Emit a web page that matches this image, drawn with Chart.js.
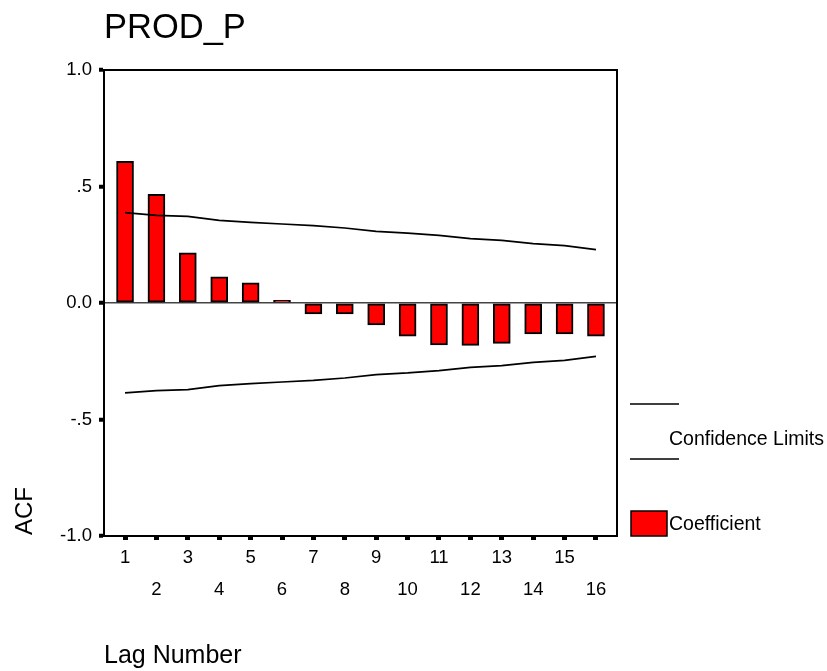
<!DOCTYPE html>
<html>
<head>
<meta charset="utf-8">
<script src="https://cdn.jsdelivr.net/npm/chart.js@4/dist/chart.umd.min.js"></script>
<style>
  html, body { margin: 0; padding: 0; background: #fff; }
  #wrap { width: 827px; height: 671px; position: relative; }
</style>
</head>
<body>
<div id="wrap"><canvas id="c" width="827" height="671"></canvas></div>
<script>
// ---- data ----
const lags = [1, 2, 3, 4, 5, 6, 7, 8, 9, 10, 11, 12, 13, 14, 15, 16];
const acf = [0.608, 0.466, 0.215, 0.112, 0.087, 0.011, -0.047, -0.047, -0.094, -0.142, -0.180, -0.182, -0.173, -0.133, -0.133, -0.142];
const upperLimit = [0.388, 0.376, 0.372, 0.355, 0.346, 0.339, 0.332, 0.322, 0.307, 0.300, 0.290, 0.276, 0.269, 0.255, 0.246, 0.229];
const lowerLimit = [-0.386, -0.376, -0.372, -0.355, -0.346, -0.339, -0.332, -0.322, -0.307, -0.300, -0.290, -0.276, -0.269, -0.255, -0.246, -0.229];
const yTickValues = [-1, -0.5, 0, 0.5, 1];
const yTickLabels = ['-1.0', '-.5', '0.0', '.5', '1.0'];
const xTickLabels = ['1','2','3','4','5','6','7','8','9','10','11','12','13','14','15','16'];
const chartTitle = 'PROD_P';
const yTitle = 'ACF';
const xTitle = 'Lag Number';
const legendLimits = 'Confidence Limits';
const legendCoef = 'Coefficient';

const FONT = '"Liberation Sans", Arial, Helvetica, sans-serif';
Chart.defaults.font.family = FONT;
Chart.defaults.color = '#000';

const decor = {
  id: 'decor',
  afterDraw(chart) {
    const ctx = chart.ctx;
    const a = chart.chartArea;
    ctx.save();
    // frame top & right
    ctx.strokeStyle = '#000';
    ctx.lineWidth = 2;
    ctx.beginPath();
    ctx.moveTo(a.left, a.top);
    ctx.lineTo(a.right, a.top);
    ctx.lineTo(a.right, a.bottom);
    ctx.stroke();
    ctx.fillStyle = '#000';
    ctx.textAlign = 'left';
    ctx.textBaseline = 'alphabetic';
    // title
    ctx.font = '34.5px ' + FONT;
    ctx.fillText(chartTitle, 104, 38);
    // x title
    ctx.font = '25px ' + FONT;
    ctx.fillText(xTitle, 104, 663);
    // y title (rotated)
    ctx.save();
    ctx.translate(31.5, 535);
    ctx.rotate(-Math.PI / 2);
    ctx.font = '24px ' + FONT;
    ctx.fillText(yTitle, 0, 0);
    ctx.restore();
    // legend
    ctx.lineWidth = 1.6;
    ctx.beginPath();
    ctx.moveTo(630, 404); ctx.lineTo(679, 404);
    ctx.moveTo(630, 459); ctx.lineTo(679, 459);
    ctx.stroke();
    ctx.font = '19.5px ' + FONT;
    ctx.textBaseline = 'middle';
    ctx.fillText(legendLimits, 669, 440);
    ctx.fillStyle = '#ff0000';
    ctx.fillRect(631, 511, 36, 25);
    ctx.lineWidth = 1.5;
    ctx.strokeStyle = '#000';
    ctx.strokeRect(631, 511, 36, 25);
    ctx.fillStyle = '#000';
    ctx.fillText(legendCoef, 669, 525);
    ctx.restore();
  }
};

new Chart(document.getElementById('c'), {
  type: 'bar',
  data: {
    datasets: [
      {
        type: 'line',
        label: 'Upper',
        data: lags.map((l, i) => ({ x: l, y: upperLimit[i] })),
        borderColor: '#000',
        borderWidth: 1.7,
        pointRadius: 0,
        tension: 0,
        fill: false,
        order: 0
      },
      {
        type: 'line',
        label: 'Lower',
        data: lags.map((l, i) => ({ x: l, y: lowerLimit[i] })),
        borderColor: '#000',
        borderWidth: 1.7,
        pointRadius: 0,
        tension: 0,
        fill: false,
        order: 0
      },
      {
        type: 'bar',
        label: legendCoef,
        data: lags.map((l, i) => ({ x: l, y: acf[i] })),
        backgroundColor: '#ff0000',
        borderColor: '#000',
        borderWidth: 2,
        borderSkipped: false,
        barThickness: 17,
        order: 1
      }
    ]
  },
  options: {
    responsive: false,
    animation: false,
    layout: { padding: { left: 0, top: 70, right: 210, bottom: 0 } },
    plugins: { legend: { display: false }, tooltip: { enabled: false }, title: { display: false } },
    scales: {
      x: {
        type: 'linear',
        offset: false,
        min: 0.33,
        max: 16.67,
        afterFit(axis) { axis.height = 135; },
        afterBuildTicks(axis) { axis.ticks = lags.map(v => ({ value: v })); },
        border: { display: true, color: '#000', width: 2 },
        grid: { offset: false, drawOnChartArea: false, drawTicks: true, tickLength: 4, tickWidth: 5, tickColor: '#000' },
        ticks: {
          padding: 2,
          maxRotation: 0,
          autoSkip: false,
          font: { size: 18.5, lineHeight: 32 / 18.5 },
          color: '#000',
          callback(v) {
            const idx = lags.indexOf(v);
            const lab = xTickLabels[idx];
            return (v % 2 === 1) ? [lab, ''] : ['', lab];
          }
        }
      },
      y: {
        min: -1,
        max: 1,
        afterFit(axis) { axis.width = 104; },
        afterBuildTicks(axis) { axis.ticks = yTickValues.map(v => ({ value: v })); },
        border: { display: true, color: '#000', width: 2 },
        grid: {
          drawOnChartArea: true,
          drawTicks: true,
          tickLength: 5,
          tickWidth: 4,
          tickColor: '#000',
          color(c) { return c.tick && c.tick.value === 0 ? '#444' : 'rgba(0,0,0,0)'; },
          lineWidth: 1.5
        },
        ticks: {
          padding: 7,
          font: { size: 18.5 },
          color: '#000',
          callback(v) {
            const idx = yTickValues.indexOf(v);
            return idx >= 0 ? yTickLabels[idx] : '';
          }
        }
      }
    }
  },
  plugins: [decor]
});
</script>
</body>
</html>
